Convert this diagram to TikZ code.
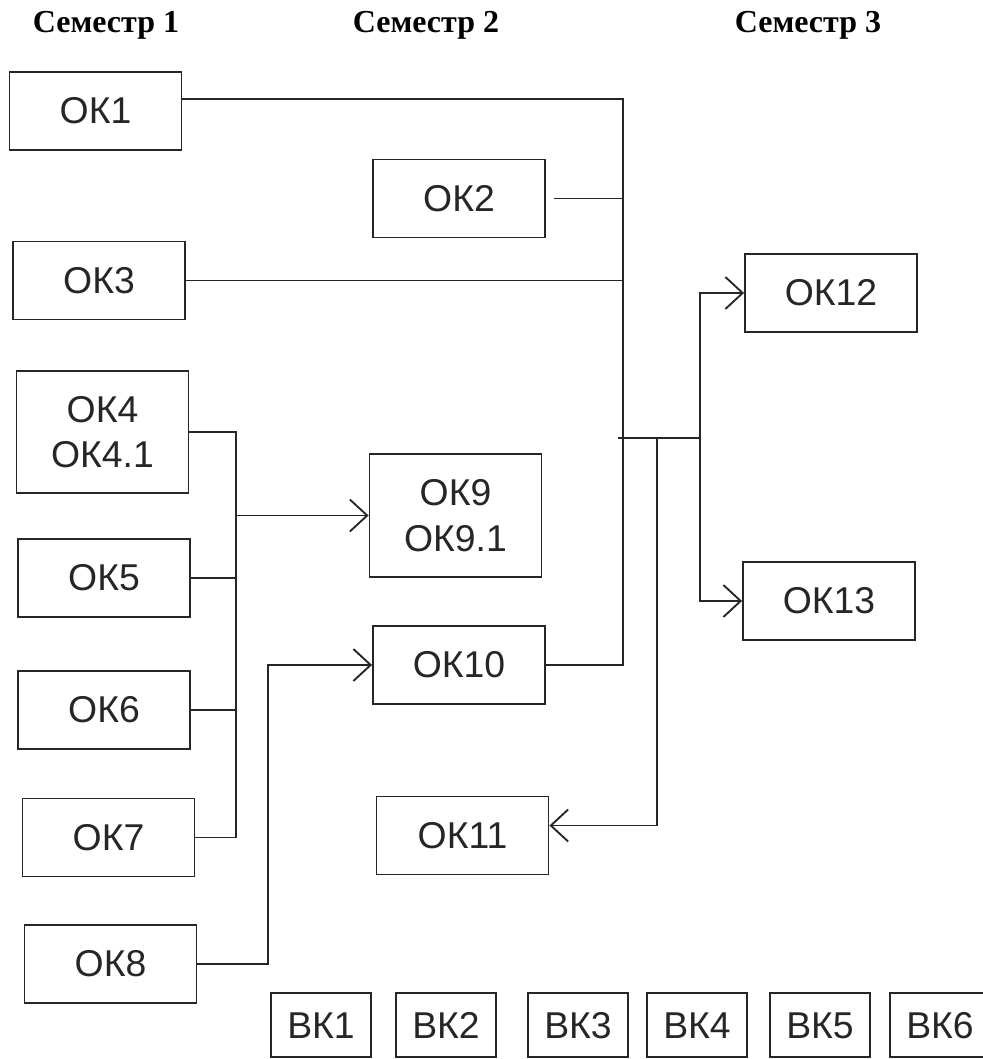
\documentclass[tikz,border=0pt]{standalone}
\usepackage{fontspec}
\setmainfont{Liberation Sans}
\newfontfamily\semfont{Liberation Serif}
\usepackage{tikz}
\usetikzlibrary{arrows.meta,positioning,calc}

\begin{document}
\begin{tikzpicture}[
  x=0.75pt, y=-0.75pt,
  >={Straight Barb[length=13pt,width=24pt]},
  sem/.style={font=\semfont\bfseries\fontsize{24}{28}\selectfont, anchor=base},
  box/.style={draw=black!85, line width=1.4pt, inner sep=0pt,
    minimum width=129pt, minimum height=58.5pt,
    font=\fontsize{28}{34}\selectfont, text=black!85, align=center},
  tallbox/.style={box, minimum height=92pt},
  vkbox/.style={box, minimum width=75pt, minimum height=48pt,
    text height=20pt, text depth=0pt},
  line/.style={draw=black!85, line width=1.4pt},
  arr/.style={line, ->},
]
\path[use as bounding box, fill=white] (0,0) rectangle (982,1059);

% Semester headers
\node[sem] (sem1) at (106,33) {Семестр 1};
\node[sem] (sem2) at (426,33) {Семестр 2};
\node[sem] (sem3) at (808,33) {Семестр 3};

% Semester 1
\node[box] (ok1) at (95.5,111) {ОК1};
\node[box] (ok3) at (99,280.5) {ОК3};
\node[tallbox] (ok4) at (102.5,432) {ОК4\\ОК4.1};
\node[box] (ok5) at (104,578) {ОК5};
\node[box] (ok6) at (104,710) {ОК6};
\node[box] (ok7) at (108.5,837.5) {ОК7};
\node[box] (ok8) at (110.5,964) {ОК8};

% Semester 2
\node[box] (ok2) at (459,198.5) {ОК2};
\node[tallbox] (ok9) at (455.5,515.5) {ОК9\\ОК9.1};
\node[box] (ok10) at (459,665) {ОК10};
\node[box] (ok11) at (462.5,835.5) {ОК11};

% Semester 3
\node[box] (ok12) at (831,293) {ОК12};
\node[box] (ok13) at (829,601) {ОК13};

% Elective row
\node[vkbox] (vk1) at (321,1025) {ВК1};
\node[vkbox] (vk2) at (446,1025) {ВК2};
\node[vkbox] (vk3) at (578,1025) {ВК3};
\node[vkbox] (vk4) at (697,1025) {ВК4};
\node[vkbox] (vk5) at (820,1025) {ВК5};
\node[vkbox] (vk6) at (940,1025) {ВК6};

% Junction points
\coordinate (bustop) at (623,99);
\coordinate (busbot) at (623,665);
\coordinate (split) at (618,438);
\coordinate (fork) at (700,438);
\coordinate (drop) at (657,438);
\coordinate (lbus) at (236,515.5);
\coordinate (ok8up) at (268,665);

% Main bus into OK10
\draw[line] ([yshift=9pt]ok1.east) -- (bustop) -- (busbot) -- (ok10.east);
\draw[line] ([xshift=6pt]ok2.east) -- (ok2.east -| bustop);
\draw[line] (ok3.east) -- (ok3.east -| bustop);
\draw[line] (split) -- (fork);
\draw[arr] (fork) |- (ok12);
\draw[arr] (fork) |- (ok13);
\draw[arr] (drop) |- ([yshift=7.5pt]ok11.east);

% Left bus into OK9
\draw[line] (ok4.east) -| (lbus) |- (ok7.east);
\draw[line] (ok5.east) -- (ok5.east -| lbus);
\draw[line] (ok6.east) -- (ok6.east -| lbus);
\draw[arr] (lbus) -- (ok9.west);

% OK8 into OK10
\draw[arr] (ok8.east) -| (ok8up) -- (ok10.west);
\end{tikzpicture}
\end{document}
